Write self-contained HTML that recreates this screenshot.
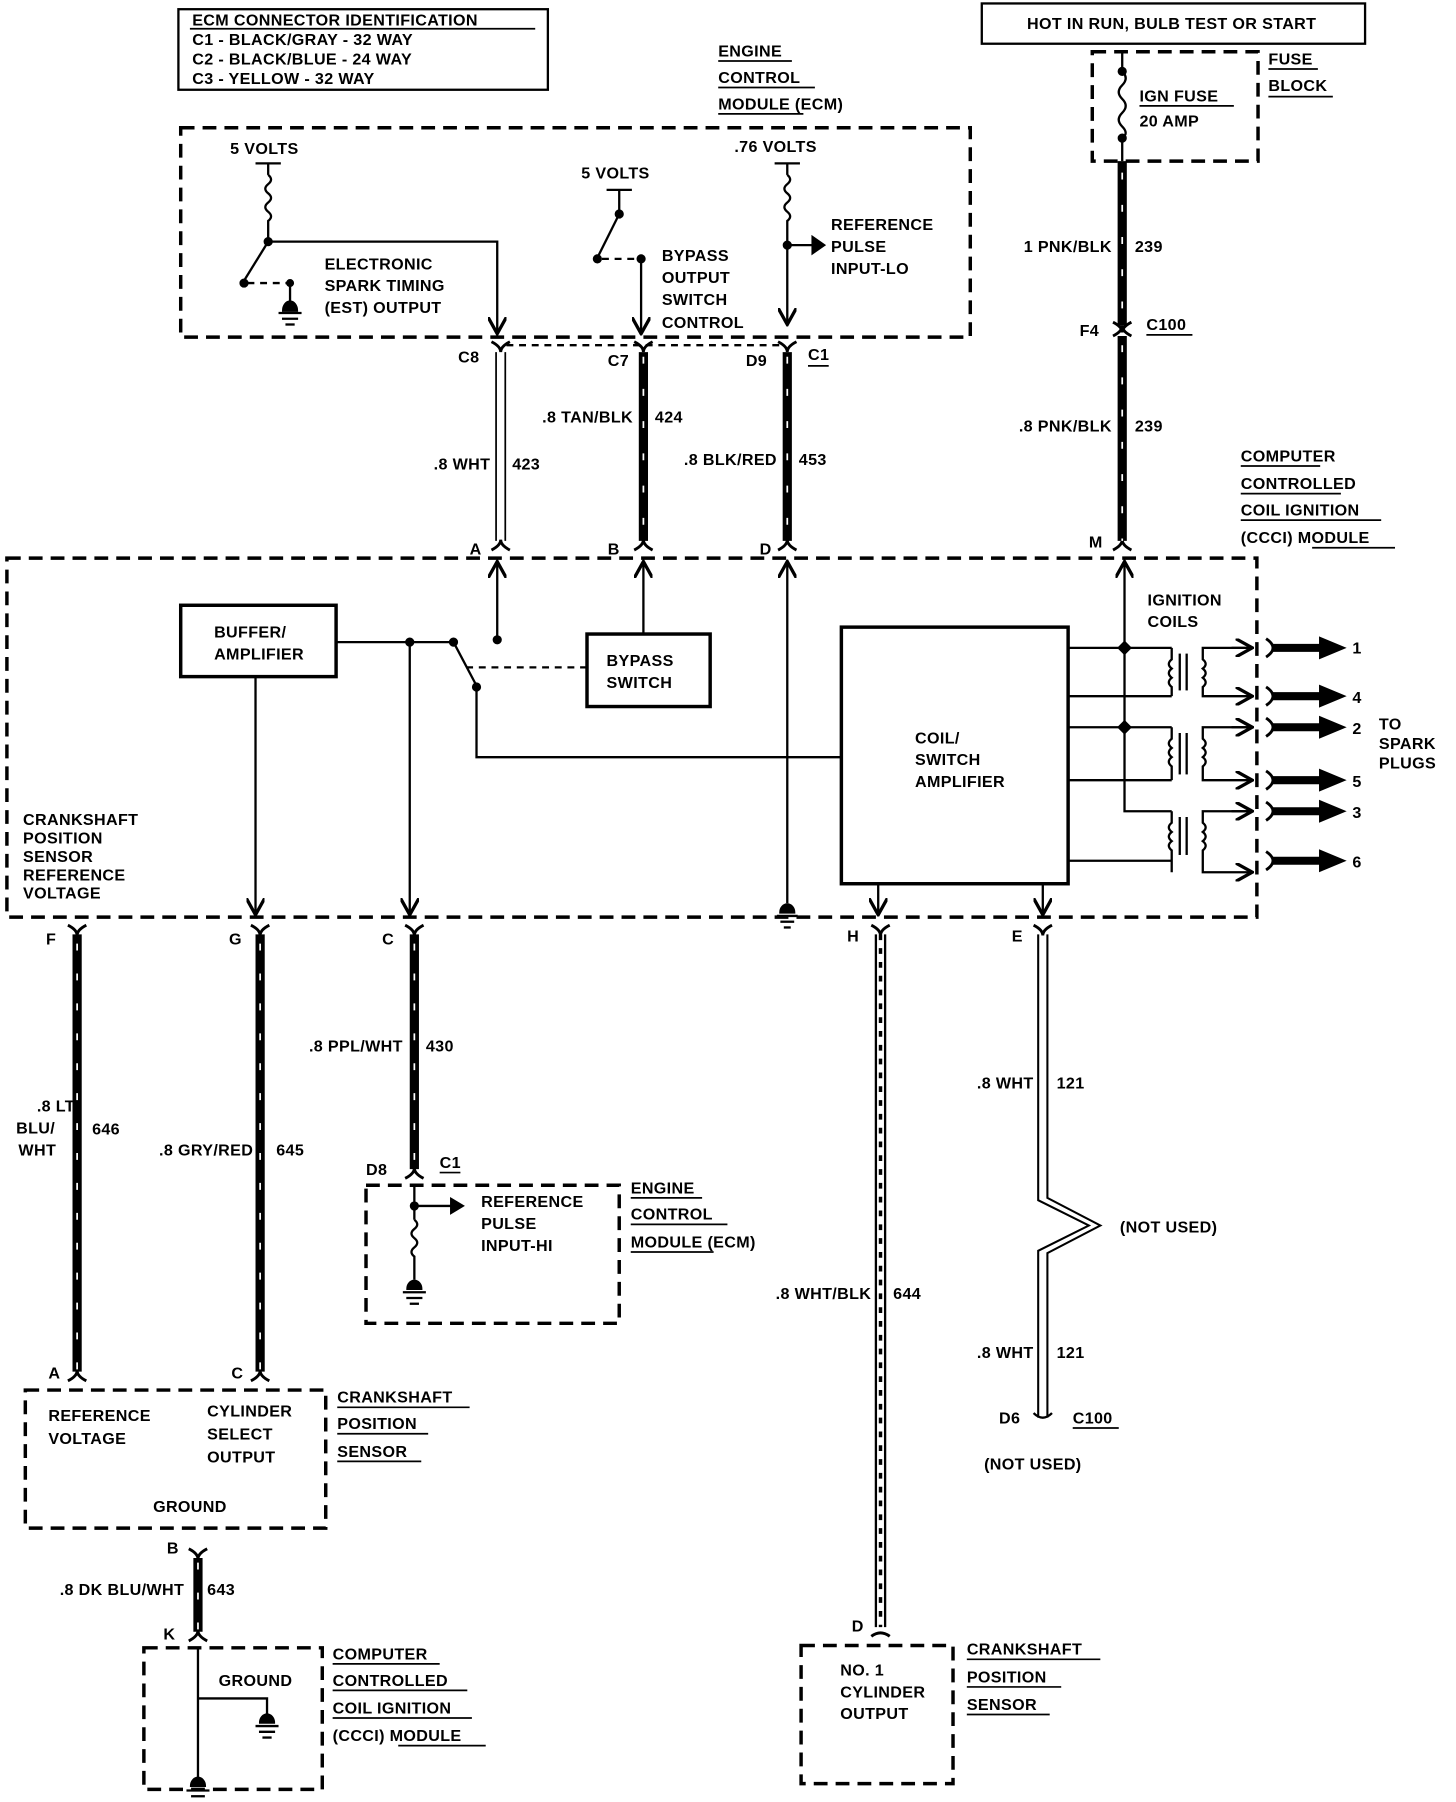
<!DOCTYPE html>
<html><head><meta charset="utf-8"><style>
html,body{margin:0;padding:0;background:#fff}
svg{display:block}
text{font-family:"Liberation Sans",sans-serif;font-size:14px;font-weight:bold;fill:#000;letter-spacing:0.3px}
</style></head><body>
<svg width="1456" height="1802" viewBox="0 0 1265 1566" preserveAspectRatio="none" xmlns="http://www.w3.org/2000/svg">
<defs>
<marker id="ar" viewBox="0 0 10 10" refX="9" refY="5" markerWidth="8" markerHeight="8" orient="auto"><path d="M0,0 L9,5 L0,10" fill="none" stroke="#000" stroke-width="1.8"/></marker>
</defs>
<g fill="none" stroke="#000" stroke-width="2">
<rect x="155" y="8" width="321" height="70"/>
<rect x="853" y="3" width="333" height="35"/>
<g stroke-dasharray="12,7" stroke-width="3">
<rect x="949" y="45" width="144" height="95"/>
<rect x="157" y="111" width="686" height="182"/>
<rect x="6" y="485" width="1086" height="312"/>
<rect x="318" y="1030" width="220" height="120"/>
<rect x="22" y="1208" width="261" height="120"/>
<rect x="125" y="1432" width="155" height="123"/>
<rect x="696" y="1430" width="132" height="120"/>
</g>
<line x1="975" y1="45" x2="975" y2="60"/>
<path d="M975,62 q6,6 0,12 q-6,6 0,12 q6,6 0,12 q-6,6 0,12 q6,6 0,10"/>
<line x1="975" y1="120" x2="975" y2="140"/>
<circle cx="975" cy="62" r="3" fill="#000"/><circle cx="975" cy="120" r="3" fill="#000"/>
<line x1="222" y1="142" x2="244" y2="142"/>
<line x1="233" y1="142" x2="233" y2="152"/>
<path d="M233,152 q5,4 0,8 q-5,4 0,8 q5,4 0,8 q-5,4 0,8 q5,4 0,8 l0,18"/>
<circle cx="233" cy="210" r="3" fill="#000"/>
<polyline points="233,210 432,210 432,290" marker-end="url(#ar)"/>
<line x1="233" y1="210" x2="212" y2="244"/>
<circle cx="212" cy="246" r="3" fill="#000"/>
<line x1="215" y1="246" x2="250" y2="246" stroke-dasharray="6,5"/>
<line x1="252" y1="246" x2="252" y2="266"/>
<circle cx="252" cy="246" r="2.5" fill="#000"/>
<path d="M246,270 a6,8 0 0 1 12,0 z" fill="#000"/>
<line x1="242" y1="272" x2="262" y2="272"/><line x1="245" y1="277" x2="259" y2="277"/><line x1="248" y1="282" x2="256" y2="282"/>
<line x1="527" y1="165" x2="549" y2="165"/>
<line x1="538" y1="165" x2="538" y2="185"/>
<circle cx="538" cy="186" r="3" fill="#000"/>
<line x1="538" y1="186" x2="520" y2="222"/>
<circle cx="519" cy="225" r="3" fill="#000"/>
<line x1="523" y1="225" x2="553" y2="225" stroke-dasharray="6,5"/>
<circle cx="557" cy="225" r="3" fill="#000"/>
<line x1="557" y1="225" x2="557" y2="290" marker-end="url(#ar)"/>
<line x1="673" y1="142" x2="695" y2="142"/>
<line x1="684" y1="142" x2="684" y2="152"/>
<path d="M684,152 q5,4 0,8 q-5,4 0,8 q5,4 0,8 q-5,4 0,8 q5,4 0,8 l0,90" marker-end="url(#ar)"/>
<circle cx="684" cy="213" r="3" fill="#000"/>
<line x1="684" y1="213" x2="712" y2="213"/>
<path d="M706,206 L716,213 L706,220 z" fill="#000"/>
<line x1="440" y1="300" x2="680" y2="300" stroke-dasharray="6,5"/>
<g stroke-width="2.5">
<path d="M427,297 q8,4 8,9 q0,-5 8,-9"/><path d="M551,297 q8,4 8,9 q0,-5 8,-9"/><path d="M676,297 q8,4 8,9 q0,-5 8,-9"/>
<path d="M427,478 q8,-4 8,-9 q0,5 8,9"/><path d="M551,478 q8,-4 8,-9 q0,5 8,9"/><path d="M676,478 q8,-4 8,-9 q0,5 8,9"/>
<path d="M967,478 q8,-4 8,-9 q0,5 8,9"/>
<path d="M967,292 q8,-4 8,-9 q0,5 8,9"/><path d="M967,280 q8,4 8,9 q0,-5 8,-9"/>
</g>
<line x1="431" y1="306" x2="431" y2="470" stroke-width="1.5"/><line x1="439" y1="306" x2="439" y2="470" stroke-width="1.5"/>
<line x1="559" y1="306" x2="559" y2="470" stroke-width="8"/>
<line x1="684" y1="306" x2="684" y2="470" stroke-width="8"/>
<line x1="975" y1="140" x2="975" y2="283" stroke-width="8"/>
<line x1="975" y1="292" x2="975" y2="470" stroke-width="8"/>
<g stroke="#fff" stroke-width="1.5" stroke-dasharray="6,22">
<line x1="559" y1="310" x2="559" y2="470"/><line x1="684" y1="310" x2="684" y2="470"/>
<line x1="975" y1="150" x2="975" y2="280"/><line x1="975" y1="300" x2="975" y2="470"/>
</g>
<line x1="432" y1="556" x2="432" y2="488" marker-end="url(#ar)"/>
<circle cx="432" cy="556" r="3" fill="#000"/>
<line x1="559" y1="551" x2="559" y2="488" marker-end="url(#ar)"/>
<line x1="684" y1="785" x2="684" y2="488" marker-end="url(#ar)"/>
<polyline points="1018,705 977,705 977,488" marker-end="url(#ar)"/>
<rect x="157" y="526" width="135" height="62" stroke-width="3"/>
<rect x="510" y="551" width="107" height="63" stroke-width="3"/>
<rect x="731" y="545" width="197" height="223" stroke-width="3"/>
<line x1="292" y1="558" x2="392" y2="558"/>
<circle cx="356" cy="558" r="3" fill="#000"/><circle cx="394" cy="558" r="3" fill="#000"/>
<line x1="394" y1="558" x2="413" y2="594"/>
<circle cx="414" cy="597" r="3" fill="#000"/>
<line x1="405" y1="580" x2="510" y2="580" stroke-dasharray="6,5"/>
<polyline points="414,597 414,658 731,658"/>
<line x1="356" y1="558" x2="356" y2="795" marker-end="url(#ar)"/>
<line x1="222" y1="588" x2="222" y2="795" marker-end="url(#ar)"/>
<path d="M678,793 a6,7 0 0 1 12,0 z" fill="#000"/>
<line x1="675" y1="796" x2="693" y2="796"/><line x1="678" y1="801" x2="690" y2="801"/><line x1="681" y1="806" x2="687" y2="806"/>
<line x1="763" y1="768" x2="763" y2="795" marker-end="url(#ar)"/>
<line x1="906" y1="768" x2="906" y2="795" marker-end="url(#ar)"/>
<polyline points="928,563 1018,563"/><polyline points="928,605 1018,605"/>
<polyline points="928,632 1018,632"/><polyline points="928,678 1018,678"/>
<polyline points="928,748 1018,748"/>
<path d="M977,558 l5,5 l-5,5 l-5,-5z" fill="#000"/><path d="M977,627 l5,5 l-5,5 l-5,-5z" fill="#000"/>
<path d="M1018,563 l0,10 q-5,4 0,8 q-5,4 0,8 q-5,4 0,8 l0,8"/>
<path d="M1018,632 l0,10 q-5,4 0,8 q-5,4 0,8 q-5,4 0,8 l0,12"/>
<path d="M1018,705 l0,10 q-5,4 0,8 q-5,4 0,8 q-5,4 0,8 l0,19"/>
<line x1="1025" y1="568" x2="1025" y2="600"/><line x1="1031" y1="568" x2="1031" y2="600"/>
<line x1="1025" y1="637" x2="1025" y2="673"/><line x1="1031" y1="637" x2="1031" y2="673"/>
<line x1="1025" y1="710" x2="1025" y2="743"/><line x1="1031" y1="710" x2="1031" y2="743"/>
<path d="M1088,563 L1045,563 l0,10 q5,4 0,8 q5,4 0,8 q5,4 0,8 l0,8 l43,0" marker-end="url(#ar)"/>
<path d="M1088,632 L1045,632 l0,10 q5,4 0,8 q5,4 0,8 q5,4 0,8 l0,12 l43,0" marker-end="url(#ar)"/>
<path d="M1088,705 L1045,705 l0,10 q5,4 0,8 q5,4 0,8 q5,4 0,8 l0,19 l43,0" marker-end="url(#ar)"/>
<line x1="1070" y1="563" x2="1088" y2="563" marker-end="url(#ar)"/>
<line x1="1070" y1="632" x2="1088" y2="632" marker-end="url(#ar)"/>
<line x1="1070" y1="705" x2="1088" y2="705" marker-end="url(#ar)"/>
<g stroke-width="2.5">
<path d="M1100,555 q6,4 6,8 q0,4 -6,8"/><path d="M1100,597 q6,4 6,8 q0,4 -6,8"/><path d="M1100,624 q6,4 6,8 q0,4 -6,8"/>
<path d="M1100,670 q6,4 6,8 q0,4 -6,8"/><path d="M1100,697 q6,4 6,8 q0,4 -6,8"/><path d="M1100,740 q6,4 6,8 q0,4 -6,8"/>
</g>
<g stroke-width="7">
<line x1="1106" y1="563" x2="1150" y2="563"/><line x1="1106" y1="605" x2="1150" y2="605"/><line x1="1106" y1="632" x2="1150" y2="632"/>
<line x1="1106" y1="678" x2="1150" y2="678"/><line x1="1106" y1="705" x2="1150" y2="705"/><line x1="1106" y1="748" x2="1150" y2="748"/>
</g>
<g fill="#000" stroke="none">
<path d="M1146,553 L1170,563 L1146,573z"/><path d="M1146,595 L1170,605 L1146,615z"/><path d="M1146,622 L1170,632 L1146,642z"/>
<path d="M1146,668 L1170,678 L1146,688z"/><path d="M1146,695 L1170,705 L1146,715z"/><path d="M1146,738 L1170,748 L1146,758z"/>
</g>
<g stroke-width="2.5">
<path d="M59,804 q8,4 8,9 q0,-5 8,-9"/><path d="M218,804 q8,4 8,9 q0,-5 8,-9"/><path d="M352,804 q8,4 8,9 q0,-5 8,-9"/>
<path d="M757,804 q8,4 8,9 q0,-5 8,-9"/><path d="M898,804 q8,4 8,9 q0,-5 8,-9"/>
<path d="M59,1200 q8,-4 8,-9 q0,5 8,9"/><path d="M218,1200 q8,-4 8,-9 q0,5 8,9"/>
<path d="M352,1024 q8,-4 8,-9 q0,5 8,9"/>
<path d="M164,1346 q8,4 8,9 q0,-5 8,-9"/><path d="M164,1426 q8,-4 8,-9 q0,5 8,9"/>
<path d="M757,1422 q8,-6 16,0"/>
</g>
<line x1="67" y1="812" x2="67" y2="1192" stroke-width="8"/>
<line x1="226" y1="812" x2="226" y2="1192" stroke-width="8"/>
<line x1="360" y1="812" x2="360" y2="1016" stroke-width="8"/>
<line x1="172" y1="1354" x2="172" y2="1418" stroke-width="8"/>
<line x1="761" y1="812" x2="761" y2="1414" stroke-width="2"/><line x1="769" y1="812" x2="769" y2="1414" stroke-width="2"/>
<line x1="765" y1="812" x2="765" y2="1414" stroke-width="3" stroke-dasharray="5,7"/>
<g stroke="#fff" stroke-width="1.5" stroke-dasharray="6,20">
<line x1="67" y1="820" x2="67" y2="1190"/><line x1="226" y1="820" x2="226" y2="1190"/>
<line x1="360" y1="820" x2="360" y2="1014"/><line x1="172" y1="1358" x2="172" y2="1416"/>
</g>
<polyline points="902,812 902,1043 946,1065 902,1087 902,1232" stroke-width="1.8"/>
<polyline points="910,812 910,1041 956,1065 910,1089 910,1232" stroke-width="1.8"/>
<path d="M898,1228 q8,8 16,0"/>
<line x1="360" y1="1030" x2="360" y2="1060"/>
<line x1="360" y1="1048" x2="396" y2="1048"/><path d="M392,1042 L402,1048 L392,1054z" fill="#000"/>
<circle cx="360" cy="1048" r="3" fill="#000"/>
<path d="M360,1060 q5,4 0,8 q-5,4 0,8 q5,4 0,8 q-5,4 0,8 l0,20"/>
<path d="M354,1120 a6,7 0 0 1 12,0z" fill="#000"/>
<line x1="350" y1="1123" x2="370" y2="1123"/><line x1="353" y1="1128" x2="367" y2="1128"/><line x1="356" y1="1133" x2="364" y2="1133"/>
<polyline points="172,1432 172,1548"/>
<polyline points="172,1476 232,1476 232,1493"/>
<path d="M226,1497 a6,7 0 0 1 12,0z" fill="#000"/>
<line x1="222" y1="1500" x2="242" y2="1500"/><line x1="225" y1="1505" x2="239" y2="1505"/><line x1="228" y1="1510" x2="236" y2="1510"/>
<path d="M166,1552 a6,7 0 0 1 12,0z" fill="#000"/>
<line x1="162" y1="1556" x2="182" y2="1556"/><line x1="166" y1="1561" x2="178" y2="1561"/>
<g stroke-width="1.5">
<line x1="165" y1="25" x2="465" y2="25"/>
<line x1="990" y1="92" x2="1072" y2="92"/><line x1="1102" y1="60" x2="1145" y2="60"/><line x1="1102" y1="84" x2="1158" y2="84"/>
<line x1="624" y1="53" x2="688" y2="53"/><line x1="624" y1="76" x2="708" y2="76"/><line x1="624" y1="99" x2="698" y2="99"/>
<line x1="702" y1="318" x2="720" y2="318"/><line x1="996" y1="291" x2="1036" y2="291"/>
<line x1="1078" y1="405" x2="1147" y2="405"/><line x1="1078" y1="429" x2="1165" y2="429"/><line x1="1078" y1="452" x2="1200" y2="452"/><line x1="1140" y1="476" x2="1212" y2="476"/>
<line x1="382" y1="1019" x2="400" y2="1019"/>
<line x1="548" y1="1041" x2="610" y2="1041"/><line x1="548" y1="1064" x2="632" y2="1064"/><line x1="548" y1="1088" x2="620" y2="1088"/>
<line x1="932" y1="1241" x2="972" y2="1241"/>
<line x1="293" y1="1223" x2="408" y2="1223"/><line x1="293" y1="1246" x2="372" y2="1246"/><line x1="293" y1="1270" x2="366" y2="1270"/>
<line x1="289" y1="1446" x2="382" y2="1446"/><line x1="289" y1="1469" x2="406" y2="1469"/><line x1="289" y1="1493" x2="410" y2="1493"/><line x1="346" y1="1517" x2="422" y2="1517"/>
<line x1="840" y1="1442" x2="956" y2="1442"/><line x1="840" y1="1466" x2="922" y2="1466"/><line x1="840" y1="1490" x2="912" y2="1490"/>
</g>
</g>
<g>
<text x="167" y="22">ECM CONNECTOR IDENTIFICATION</text>
<text x="167" y="39">C1 - BLACK/GRAY - 32 WAY</text>
<text x="167" y="56">C2 - BLACK/BLUE - 24 WAY</text>
<text x="167" y="73">C3 - YELLOW - 32 WAY</text>
<text x="1018" y="25" text-anchor="middle">HOT IN RUN, BULB TEST OR START</text>
<text x="990" y="88">IGN FUSE</text><text x="990" y="110">20 AMP</text>
<text x="1102" y="56">FUSE</text><text x="1102" y="79">BLOCK</text>
<text x="624" y="49">ENGINE</text><text x="624" y="72">CONTROL</text><text x="624" y="95">MODULE (ECM)</text>
<text x="200" y="134">5 VOLTS</text><text x="505" y="155">5 VOLTS</text><text x="638" y="132">.76 VOLTS</text>
<text x="282" y="234">ELECTRONIC</text><text x="282" y="253">SPARK TIMING</text><text x="282" y="272">(EST) OUTPUT</text>
<text x="575" y="227">BYPASS</text><text x="575" y="246">OUTPUT</text><text x="575" y="265">SWITCH</text><text x="575" y="285">CONTROL</text>
<text x="722" y="200">REFERENCE</text><text x="722" y="219">PULSE</text><text x="722" y="238">INPUT-LO</text>
<text x="398" y="315">C8</text><text x="528" y="318">C7</text><text x="648" y="318">D9</text><text x="702" y="313">C1</text>
<text x="550" y="367" text-anchor="end">.8 TAN/BLK</text><text x="569" y="367">424</text>
<text x="426" y="408" text-anchor="end">.8 WHT</text><text x="445" y="408">423</text>
<text x="675" y="404" text-anchor="end">.8 BLK/RED</text><text x="694" y="404">453</text>
<text x="966" y="219" text-anchor="end">1 PNK/BLK</text><text x="986" y="219">239</text>
<text x="938" y="292">F4</text><text x="996" y="287">C100</text>
<text x="966" y="375" text-anchor="end">.8 PNK/BLK</text><text x="986" y="375">239</text>
<text x="1078" y="401">COMPUTER</text><text x="1078" y="425">CONTROLLED</text><text x="1078" y="448">COIL IGNITION</text><text x="1078" y="472">(CCCI) MODULE</text>
<text x="408" y="482">A</text><text x="528" y="482">B</text><text x="660" y="482">D</text><text x="946" y="476">M</text>
<text x="186" y="554">BUFFER/</text><text x="186" y="573">AMPLIFIER</text>
<text x="527" y="579">BYPASS</text><text x="527" y="598">SWITCH</text>
<text x="795" y="646">COIL/</text><text x="795" y="665">SWITCH</text><text x="795" y="684">AMPLIFIER</text>
<text x="997" y="526">IGNITION</text><text x="997" y="545">COILS</text>
<text x="1175" y="568">1</text><text x="1175" y="611">4</text><text x="1175" y="638">2</text><text x="1175" y="684">5</text><text x="1175" y="711">3</text><text x="1175" y="754">6</text>
<text x="1198" y="634">TO</text><text x="1198" y="651">SPARK</text><text x="1198" y="668">PLUGS</text>
<text x="20" y="717">CRANKSHAFT</text><text x="20" y="733">POSITION</text><text x="20" y="749">SENSOR</text><text x="20" y="765">REFERENCE</text><text x="20" y="781">VOLTAGE</text>
<text x="40" y="821">F</text><text x="199" y="821">G</text><text x="332" y="821">C</text><text x="736" y="818">H</text><text x="879" y="818">E</text>
<text x="32" y="966">.8 LT</text><text x="14" y="985">BLU/</text><text x="16" y="1004">WHT</text><text x="80" y="986">646</text>
<text x="220" y="1004" text-anchor="end">.8 GRY/RED</text><text x="240" y="1004">645</text>
<text x="350" y="914" text-anchor="end">.8 PPL/WHT</text><text x="370" y="914">430</text>
<text x="757" y="1129" text-anchor="end">.8 WHT/BLK</text><text x="776" y="1129">644</text>
<text x="898" y="946" text-anchor="end">.8 WHT</text><text x="918" y="946">121</text>
<text x="973" y="1071">(NOT USED)</text>
<text x="898" y="1180" text-anchor="end">.8 WHT</text><text x="918" y="1180">121</text>
<text x="868" y="1237">D6</text><text x="932" y="1237">C100</text>
<text x="855" y="1277">(NOT USED)</text>
<text x="318" y="1021">D8</text><text x="382" y="1015">C1</text>
<text x="418" y="1049">REFERENCE</text><text x="418" y="1068">PULSE</text><text x="418" y="1087">INPUT-HI</text>
<text x="548" y="1037">ENGINE</text><text x="548" y="1060">CONTROL</text><text x="548" y="1084">MODULE (ECM)</text>
<text x="42" y="1198">A</text><text x="201" y="1198">C</text>
<text x="42" y="1235">REFERENCE</text><text x="42" y="1255">VOLTAGE</text>
<text x="180" y="1231">CYLINDER</text><text x="180" y="1251">SELECT</text><text x="180" y="1271">OUTPUT</text>
<text x="133" y="1314">GROUND</text>
<text x="293" y="1219">CRANKSHAFT</text><text x="293" y="1242">POSITION</text><text x="293" y="1266">SENSOR</text>
<text x="145" y="1350">B</text>
<text x="160" y="1386" text-anchor="end">.8 DK BLU/WHT</text><text x="180" y="1386">643</text>
<text x="142" y="1425">K</text>
<text x="190" y="1465">GROUND</text>
<text x="289" y="1442">COMPUTER</text><text x="289" y="1465">CONTROLLED</text><text x="289" y="1489">COIL IGNITION</text><text x="289" y="1513">(CCCI) MODULE</text>
<text x="740" y="1418">D</text>
<text x="730" y="1456">NO. 1</text><text x="730" y="1475">CYLINDER</text><text x="730" y="1494">OUTPUT</text>
<text x="840" y="1438">CRANKSHAFT</text><text x="840" y="1462">POSITION</text><text x="840" y="1486">SENSOR</text>
</g>
</svg>
</body></html>
